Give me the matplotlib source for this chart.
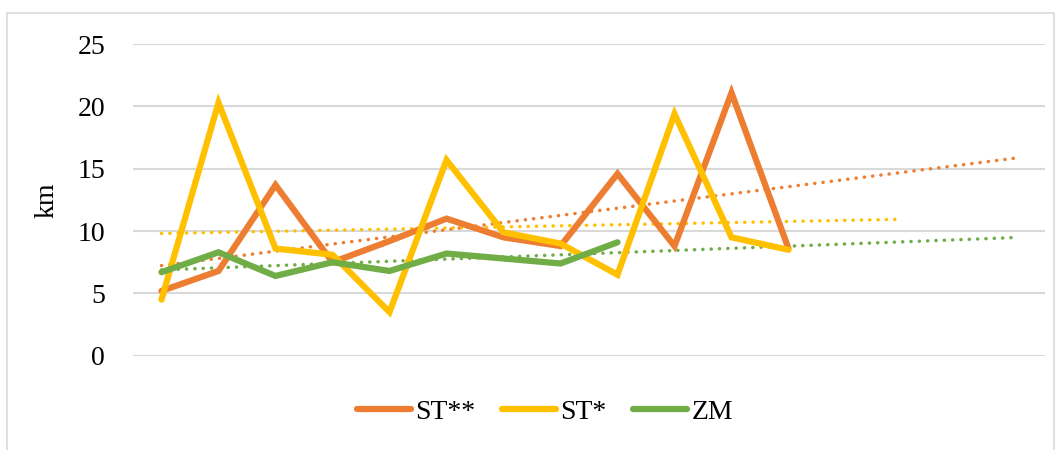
import numpy as np
import matplotlib
matplotlib.use("Agg")
import matplotlib.pyplot as plt
from matplotlib.patches import Rectangle

plt.rcParams['font.family'] = ['Liberation Serif', 'DejaVu Serif']

# values (km per period)
st2 = [5.2, 6.8, 13.7, 7.5, 9.2, 11.0, 9.5, 8.8, 14.6, 8.8, 21.1, 8.6]
st1 = [4.5, 20.3, 8.6, 8.1, 3.5, 15.7, 9.9, 9.0, 6.5, 19.4, 9.5, 8.5]
zm = [6.7, 8.3, 6.4, 7.5, 6.8, 8.2, 7.8, 7.4, 9.1]
labels = ['ST**', 'ST*', 'ZM']
colors = ['#ED7D31', '#FFC000', '#70AD47']
# trendline forecast (periods forward), as set in the original chart
forward = [4, 2, 7]
n_cats = 16

fig = plt.figure(figsize=(10.62, 4.5), dpi=100)
fig.patches.append(Rectangle((7 / 1062, -0.01), 1047 / 1062, 1 - 13 / 450 + 0.01,
                             transform=fig.transFigure, fill=False,
                             edgecolor='#D9D9D9', linewidth=1.2))
ax = fig.add_axes([133 / 1062, 1 - 355.7 / 450, 912 / 1062, 311.5 / 450])

handles = []
for vals, lab, col, fw in zip([st2, st1, zm], labels, colors, forward):
    x = np.arange(1, len(vals) + 1)
    h, = ax.plot(x, vals, color=col, linewidth=4.5, solid_joinstyle='miter',
                 solid_capstyle='round', label=lab, zorder=3)
    handles.append(h)
    # linear trendline
    k, b = np.polyfit(x, vals, 1)
    xt = np.array([1, len(vals) + fw])
    ax.plot(xt, k * xt + b, color=col, linewidth=2.5, linestyle=(0, (0.05, 2.35)),
            dash_capstyle='round', zorder=2)

ax.set_xlim(0.5, n_cats + 0.5)
ax.set_ylim(0, 25)
ax.set_yticks(range(0, 26, 5))
ax.set_xticks([])
ax.grid(axis='y', color='#D9D9D9', linewidth=1.5)
ax.set_axisbelow(True)
for s in ax.spines.values():
    s.set_visible(False)
ax.tick_params(axis='y', length=0, pad=20, labelsize=20)
ax.set_ylabel('km', fontsize=20, labelpad=13)

fig.legend(handles=handles, labels=labels, loc='center', bbox_to_anchor=(545 / 1062, 1 - 412 / 450),
           ncol=3, frameon=False, fontsize=20, handlelength=1.95, handletextpad=0.15,
           columnspacing=0.95)

fig.savefig('out.png', dpi=100)
